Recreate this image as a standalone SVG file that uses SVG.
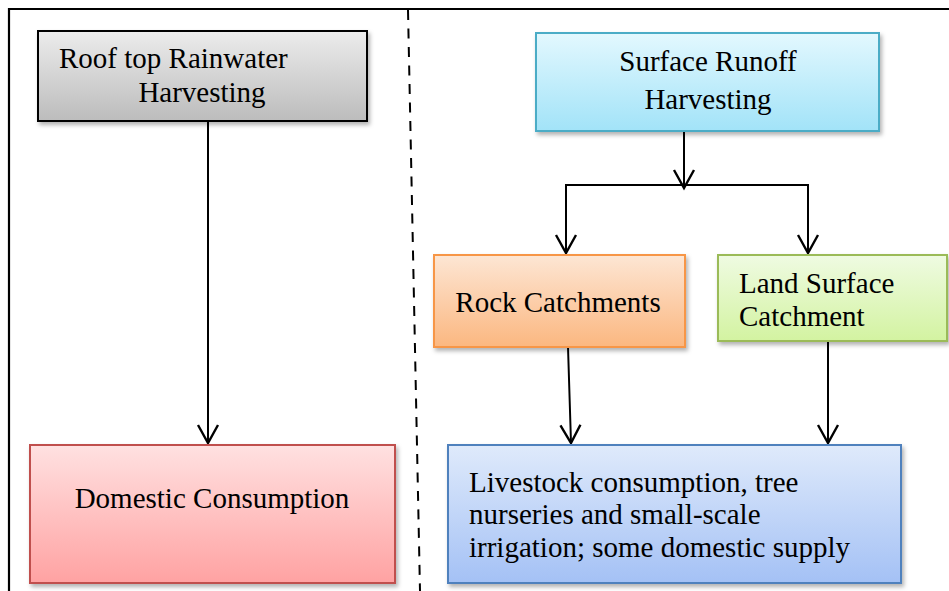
<svg xmlns="http://www.w3.org/2000/svg" width="949" height="591" viewBox="0 0 949 591">
<style>
  text { font-family: "Liberation Serif", "Times New Roman", serif; font-size: 29px; fill: #000; }
  .frame { fill: none; stroke: #000; stroke-width: 2.2; }
  .divider { fill: none; stroke: #000; stroke-width: 2; stroke-dasharray: 10 8.5; }
  .conn { fill: none; stroke: #000; stroke-width: 2; marker-end: url(#arrow); }
  .seg { fill: none; stroke: #000; stroke-width: 2; }
  .box { stroke-width: 2; filter: url(#shadow); }
</style>
<defs>
  <filter id="shadow" x="-10%" y="-10%" width="130%" height="140%">
    <feDropShadow dx="2" dy="3" stdDeviation="2" flood-color="#000" flood-opacity="0.3"/>
  </filter>
  <marker id="arrow" markerUnits="userSpaceOnUse" orient="auto" refX="0" refY="0" markerWidth="40" markerHeight="40" viewBox="-20 -20 40 40" overflow="visible">
    <path d="M-18,-10 L0,0 L-18,10" fill="none" stroke="#000" stroke-width="2.4"/>
  </marker>
  <linearGradient id="gGray" x1="0" y1="0" x2="0" y2="1"><stop offset="0" stop-color="#ececec"/><stop offset="1" stop-color="#bcbcbc"/></linearGradient>
  <linearGradient id="gPink" x1="0" y1="0" x2="0" y2="1"><stop offset="0" stop-color="#ffe1e1"/><stop offset="1" stop-color="#ffa2a2"/></linearGradient>
  <linearGradient id="gCyan" x1="0" y1="0" x2="0" y2="1"><stop offset="0" stop-color="#e3f8fe"/><stop offset="1" stop-color="#a2e3f8"/></linearGradient>
  <linearGradient id="gOrange" x1="0" y1="0" x2="0" y2="1"><stop offset="0" stop-color="#fde6d4"/><stop offset="1" stop-color="#fbb780"/></linearGradient>
  <linearGradient id="gGreen" x1="0" y1="0" x2="0" y2="1"><stop offset="0" stop-color="#effbe2"/><stop offset="1" stop-color="#d3f3a1"/></linearGradient>
  <linearGradient id="gBlue" x1="0" y1="0" x2="0" y2="1"><stop offset="0" stop-color="#dfeafb"/><stop offset="1" stop-color="#a4c1f5"/></linearGradient>
</defs>
<rect width="949" height="591" fill="#fff"/>
<g id="frame">
  <path class="frame" d="M9,591 L9,9 L949,9"/>
  <path class="divider" d="M408,10 L420,591"/>
</g>
<g id="connectors">
  <path class="conn" d="M208,121 L208,443"/>
  <path class="conn" d="M684,131 L684,188"/>
  <path class="seg" d="M566,185 L808,185"/>
  <path class="conn" d="M566,184 L566,253"/>
  <path class="conn" d="M808,184 L808,253"/>
  <path class="conn" d="M568,347 L571,443"/>
  <path class="conn" d="M828,341 L828,443"/>
</g>
<g id="roof">
  <rect class="box" x="38" y="31" width="329" height="90" fill="url(#gGray)" stroke="#000"/>
  <text x="59" y="68">Roof top Rainwater</text>
  <text x="202" y="102" text-anchor="middle">Harvesting</text>
</g>
<g id="domestic">
  <rect class="box" x="30" y="445" width="365" height="138" fill="url(#gPink)" stroke="#c0504d"/>
  <text x="212" y="508" text-anchor="middle">Domestic Consumption</text>
</g>
<g id="surface">
  <rect class="box" x="536" y="33" width="343" height="98" fill="url(#gCyan)" stroke="#4bacc6"/>
  <text x="708" y="71" text-anchor="middle">Surface Runoff</text>
  <text x="708" y="109" text-anchor="middle">Harvesting</text>
</g>
<g id="rock">
  <rect class="box" x="434" y="255" width="251" height="92" fill="url(#gOrange)" stroke="#f79646"/>
  <text x="558" y="312" text-anchor="middle">Rock Catchments</text>
</g>
<g id="land">
  <rect class="box" x="718" y="255" width="229" height="86" fill="url(#gGreen)" stroke="#9bbb59"/>
  <text x="739" y="293">Land Surface</text>
  <text x="739" y="326">Catchment</text>
</g>
<g id="uses">
  <rect class="box" x="448" y="445" width="453" height="138" fill="url(#gBlue)" stroke="#4f81bd"/>
  <text x="469" y="492">Livestock consumption, tree</text>
  <text x="469" y="524">nurseries and small-scale</text>
  <text x="469" y="557">irrigation; some domestic supply</text>
</g>
</svg>
